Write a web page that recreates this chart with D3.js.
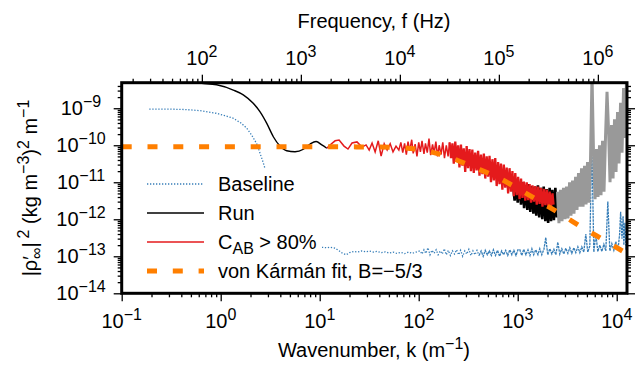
<!DOCTYPE html>
<html>
<head>
<meta charset="utf-8">
<script src="https://cdn.jsdelivr.net/npm/d3@7"></script>
<style>
  body { margin: 0; background: #fff; }
  svg { display: block; font-family: "Liberation Sans", Arial, Helvetica, sans-serif; }
</style>
</head>
<body>
<svg id="chart" width="642" height="371"></svg>
<script>
// ---- data ----
// frequency per unit wavenumber (top axis), Hz per m^-1
const freqPerK = 155;

// tick label exponents
const kTickExp = [-1, 0, 1, 2, 3, 4];
const fTickExp = [2, 3, 4, 5, 6];
const yTickExp = [-14, -13, -12, -11, -10, -9];

// Baseline (smooth low-k part, then noise floor)
const baseK = [0.19, 0.3, 0.45, 0.62, 0.91, 1.1, 1.33, 1.6, 1.83, 2.05, 2.31, 2.5, 2.67, 2.87, 3.1, 3.5,
  4, 5, 6.5, 8, 10, 10.8, 11.8, 12.8, 14, 15.5, 17, 18.5, 20, 22, 24, 26.5, 29, 32, 35, 38, 42, 46, 50, 55, 60, 66, 72, 79, 86, 94,
  103, 108, 113, 118, 124, 130, 136, 143, 150, 157, 165, 173, 181, 190, 199, 209, 219, 230, 241, 253, 265, 278, 292, 306, 321,
  337, 353, 370, 388, 407, 427, 448, 470, 493, 517, 542, 568, 596, 625, 656, 688, 721, 756, 793, 832, 872, 915, 960, 1007,
  1050, 1100, 1150, 1210, 1270, 1330, 1390, 1450, 1520, 1600, 1670, 1750, 1840, 1920, 2010, 2110, 2210, 2320, 2430, 2540,
  2660, 2790, 2920, 3060, 3210, 3360, 3520, 3690, 3860, 4050, 4240, 4440, 4650, 4870, 5100, 5350, 5600, 5870, 6150, 6440,
  6750, 7070, 7410, 7760, 8130, 8520, 8920, 9350, 9790, 10300, 10700, 10950, 11300, 11600, 11800, 12100, 12400, 12700];
const baseV = [9.5e-10, 9.5e-10, 9.2e-10, 8.6e-10, 7.3e-10, 6.3e-10, 5.4e-10, 4.0e-10, 2.9e-10, 1.9e-10, 1.1e-10, 6.0e-11, 3.6e-11, 1.9e-11, 6e-12, 1e-12,
  1.6e-13, 1.5e-13, 1.7e-13, 1.6e-13, 1.7e-13, 1.75e-13, 1.7e-13, 1.75e-13, 1.68e-13, 1.45e-13, 1.2e-13, 1.1e-13, 1.25e-13, 1.35e-13, 1.3e-13, 1.4e-13, 1.32e-13, 1.38e-13, 1.3e-13, 1.36e-13, 1.25e-13, 1.32e-13, 1.22e-13, 1.3e-13, 1.2e-13, 1.28e-13, 1.18e-13, 1.3e-13, 1.2e-13, 1.3e-13,
  1.4e-13, 1.15e-13, 1.5e-13, 1.2e-13, 1.7e-13, 1.1e-13, 1.45e-13, 1.2e-13, 1.5e-13, 1.1e-13, 1.4e-13, 1.15e-13, 1.6e-13, 1.1e-13, 1.45e-13, 1.05e-13, 1.4e-13, 1.15e-13, 1.5e-13, 1.1e-13, 1.45e-13, 1.0e-13, 1.4e-13, 1.15e-13, 1.55e-13,
  1.05e-13, 1.4e-13, 1.1e-13, 1.45e-13, 1.05e-13, 1.4e-13, 1.0e-13, 1.45e-13, 1.1e-13, 1.4e-13, 1.05e-13, 1.5e-13, 1.05e-13, 1.45e-13, 1.0e-13, 1.4e-13, 1.1e-13, 1.45e-13, 1.05e-13, 1.5e-13, 1.1e-13, 1.45e-13, 1.05e-13, 1.5e-13,
  1.5e-13, 1.05e-13, 1.55e-13, 1.1e-13, 1.5e-13, 1.05e-13, 1.6e-13, 1.1e-13, 1.5e-13, 1.1e-13, 1.6e-13, 1.1e-13, 1.55e-13, 3.2e-13, 1.1e-13, 1.6e-13, 1.15e-13, 1.55e-13, 1.1e-13, 2.4e-13,
  1.15e-13, 1.6e-13, 1.15e-13, 1.65e-13, 1.2e-13, 1.7e-13, 1.2e-13, 1.7e-13, 1.25e-13, 1.8e-13, 1.25e-13, 1.8e-13, 1.3e-13, 4.0e-13, 1.3e-13, 1.9e-13, 1.4e-10, 1.3e-13, 4.0e-13, 1.35e-13,
  2.0e-13, 1.35e-13, 2.1e-13, 1.4e-13, 3.0e-12, 1.4e-13, 2.2e-13, 1.45e-13, 2.5e-13, 1.5e-13, 4.0e-13, 1.6e-12, 3.0e-13, 1.2e-12, 2.0e-13, 8.0e-13, 1.5e-13, 4.0e-13];

// Run: smooth low-k part and the noisy part not covered by the coherent band
const runK = [0.12, 0.3, 0.5, 0.643, 0.911, 1.34, 1.69, 2.13, 2.49, 2.92, 3.4, 3.97, 4.64, 5.63, 6.84, 8.0, 9.2, 10.5, 11.8];
const runV = [5.3e-9, 5.2e-9, 5.0e-9, 4.7e-9, 4.3e-9, 3.1e-9, 2.3e-9, 1.36e-9, 8.1e-10, 3.9e-10, 1.7e-10, 9.5e-11, 7.1e-11, 6.7e-11, 7.8e-11, 1.08e-10, 1.26e-10, 1.02e-10, 8.3e-11];
const runNoiseK = [900, 930, 960, 1000, 1040, 1080, 1120, 1160, 1200, 1250, 1290, 1340, 1390, 1440, 1490, 1540, 1600, 1650, 1710, 1770, 1830, 1900, 1960, 2030, 2100, 2170, 2240, 2320, 2400, 2480, 2550];
const runNoiseV = [7.9e-12, 3.2e-12, 1.0e-11, 2.8e-12, 8.9e-12, 2.5e-12, 1.0e-11, 2.0e-12, 7.9e-12, 1.78e-12, 8.9e-12, 1.58e-12, 7.9e-12, 1.41e-12, 7.6e-12, 1.26e-12, 8.3e-12, 1.12e-12, 7.1e-12, 1.0e-12, 7.6e-12, 8.9e-13, 6.6e-12, 7.9e-13, 7.1e-12, 8.9e-13, 6.3e-12, 9.5e-13, 7.1e-12, 1.12e-12, 5.0e-12];

// Run above the cut-off (grey)
const greyK = [2520, 2610, 2700, 2800, 2900, 3000, 3110, 3220, 3340, 3450, 3580, 3700, 3840, 3970, 4110, 4260, 4410, 4570, 4730, 4900,
  5070, 5250, 5440, 5630, 5830, 6040, 6250, 6470, 6700, 6940, 7190, 7440, 7710, 7980, 8270, 8560, 8860, 9180, 9500, 9840,
  10190, 10550, 10930, 11320, 11720, 12130, 12560];
const greyV = [5.6e-12, 7.9e-13, 6.3e-12, 8.9e-13, 7.1e-12, 1.0e-12, 7.6e-12, 1.05e-12, 1.0e-11, 1.26e-12,
  1.12e-11, 1.41e-12, 1.41e-11, 1.78e-12, 1.78e-11, 2.2e-12, 2.4e-11, 2.2e-12, 2.8e-11, 2.5e-12,
  3.5e-11, 2.8e-12, 4.5e-11, 8e-9, 6.0e-11, 3.5e-12, 7.9e-11, 4.0e-12, 1.0e-10, 4.5e-12,
  1.32e-10, 5.6e-12, 1.78e-10, 2.8e-9, 2.5e-10, 1.0e-11, 3.5e-10, 1.26e-11, 5.0e-10, 1.9e-11,
  7.9e-10, 3.2e-11, 1.41e-9, 6.3e-11, 3.5e-9, 1.58e-10, 6.3e-9];

// C_AB > 80%
const cohK = [11.8, 12.7, 14.3, 15.7, 17.6, 19.3, 21.2, 23.8, 26.7, 29.4, 31.6, 33.8, 36.3, 39, 41.7, 44.8, 48, 51.5, 55, 59, 63,
  66, 69, 72, 75, 78, 81, 85, 88, 92, 96, 100, 104, 108, 113, 117, 122, 127, 132, 138, 143, 149, 155, 161, 168, 175, 182, 190, 198,
  205, 212, 219, 226, 234, 242, 250, 258, 267, 276, 285, 295, 305, 315, 326, 337, 348, 360, 372, 385, 398, 411, 425, 440, 455, 470,
  486, 502, 519, 537, 555, 574, 593, 613, 634, 655, 677, 700, 724, 748, 774, 800, 827, 855, 884, 914, 945, 977, 1010, 1044, 1080,
  1116, 1154, 1193, 1233, 1275, 1318, 1363, 1409, 1457, 1506, 1557, 1610, 1664, 1720, 1779, 1839, 1901, 1965, 2032, 2100, 2170, 2245, 2300];
const cohV = [8.3e-11, 1.02e-10, 1.32e-10, 1.38e-10, 9.5e-11, 7.9e-11, 1.15e-10, 1.23e-10, 8.9e-11, 1.02e-10, 7.4e-11, 1.15e-10, 6.6e-11, 1.32e-10, 5.1e-11, 1.1e-10, 7.4e-11, 1.1e-10, 6.6e-11, 9.5e-11, 7.4e-11,
  1.2e-10, 6.3e-11, 1.12e-10, 5.6e-11, 1.26e-10, 7.1e-11, 1.41e-10, 6.0e-11, 1.07e-10, 5.0e-11, 1.2e-10, 6.6e-11, 1.32e-10, 5.8e-11, 1.12e-10, 6.3e-11, 1.51e-10, 5.4e-11, 1.05e-10, 6.0e-11, 1.26e-10, 5.0e-11, 1.0e-10, 5.6e-11, 1.2e-10, 4.5e-11, 1.0e-10, 5.0e-11,
  1.2e-10, 4.5e-11, 1.12e-10, 3.2e-11, 1.26e-10, 3.8e-11, 1.0e-10, 2.5e-11, 1.05e-10, 2.8e-11, 8.3e-11, 1.9e-11, 9.5e-11, 2.4e-11, 7.9e-11, 2.0e-11, 7.6e-11, 1.78e-11, 6.3e-11, 2.1e-11, 7.1e-11, 1.51e-11, 5.6e-11, 1.66e-11, 6.0e-11, 1.26e-11,
  5.0e-11, 1.41e-11, 5.2e-11, 1.0e-11, 4.2e-11, 1.12e-11, 4.5e-11, 7.9e-12, 3.5e-11, 8.9e-12, 3.2e-11, 6.3e-12, 3.0e-11, 7.1e-12, 2.5e-11, 5.0e-12, 2.4e-11, 5.6e-12, 2.0e-11, 4.2e-12, 1.78e-11, 4.5e-12, 1.41e-11, 3.5e-12, 1.26e-11,
  3.8e-12, 1.05e-11, 3.2e-12, 1.0e-11, 3.3e-12, 8.9e-12, 2.8e-12, 8.3e-12, 3.0e-12, 7.9e-12, 2.5e-12, 7.6e-12, 2.6e-12, 7.1e-12, 2.2e-12, 6.6e-12, 2.4e-12, 6.3e-12, 2.1e-12, 5.6e-12, 2.2e-12, 5.0e-12, 2.5e-12];

// von Karman fit
const fitK = [0.1, 1, 10, 30, 60, 110, 197, 354, 612, 1060, 1680, 2800, 4600, 7900, 12700];
const fitV = [9.1e-11, 9.1e-11, 9.1e-11, 9.0e-11, 8.7e-11, 7.4e-11, 4.9e-11, 2.6e-11, 1.4e-11, 6.2e-12, 3.0e-12, 1.32e-12, 5.75e-13, 2.5e-13, 1.17e-13];

// ---- layout ----
const W = 642, H = 371;
const margin = { top: 82.7, right: 15, bottom: 77.7, left: 121.7 };
const kDomain = [0.1, 12700];
const yDomain = [1e-14, 4.9e-9];

const svg = d3.select('#chart');

const x = d3.scaleLog().domain(kDomain).range([margin.left, W - margin.right]);
const xf = d3.scaleLog().domain(kDomain.map(k => k * freqPerK)).range([margin.left, W - margin.right]);
const y = d3.scaleLog().domain(yDomain).range([H - margin.bottom, margin.top]);

svg.append('defs').append('clipPath').attr('id', 'plot-clip')
  .append('rect')
  .attr('x', margin.left).attr('y', margin.top)
  .attr('width', W - margin.left - margin.right)
  .attr('height', H - margin.top - margin.bottom);

// log ticks: majors at decades, minors at 2..9
function logTicks(domain) {
  const major = [], minor = [];
  for (let e = Math.floor(Math.log10(domain[0])); e <= Math.ceil(Math.log10(domain[1])); e++) {
    for (let m = 1; m < 10; m++) {
      const v = m * Math.pow(10, e);
      if (v < domain[0] * 0.999 || v > domain[1] * 1.001) continue;
      (m === 1 ? major : minor).push(v);
    }
  }
  return { major, minor };
}

function drawAxis(axisFn, scale, transform, domain) {
  const t = logTicks(domain);
  [[t.minor, 4], [t.major, 8]].forEach(([vals, size]) => {
    const g = svg.append('g').attr('transform', transform)
      .call(axisFn(scale).tickValues(vals).tickSize(size).tickFormat(''));
    g.select('.domain').remove();
    g.selectAll('line').attr('stroke', '#000').attr('stroke-width', 1.3);
  });
}

drawAxis(d3.axisBottom, x, `translate(0,${H - margin.bottom})`, kDomain);
drawAxis(d3.axisTop, xf, `translate(0,${margin.top})`, xf.domain());
drawAxis(d3.axisLeft, y, `translate(${margin.left},0)`, yDomain);
drawAxis(d3.axisRight, y, `translate(${W - margin.right},0)`, yDomain);

// "10^n" labels
function powLabel(sel, e) {
  sel.append('tspan').text('10');
  sel.append('tspan').attr('dy', -8).attr('font-size', 16)
    .text(e < 0 ? '\u2212' + Math.abs(e) : String(e));
}

const labels = svg.append('g').attr('font-size', 20).attr('fill', '#000');

kTickExp.forEach(e => {
  labels.append('text').attr('x', x(Math.pow(10, e))).attr('y', 328)
    .attr('text-anchor', 'middle').call(powLabel, e);
});
fTickExp.forEach(e => {
  labels.append('text').attr('x', xf(Math.pow(10, e))).attr('y', 65)
    .attr('text-anchor', 'middle').call(powLabel, e);
});
yTickExp.forEach(e => {
  labels.append('text').attr('x', 81).attr('y', y(Math.pow(10, e)) + 7)
    .attr('text-anchor', 'middle').call(powLabel, e);
});

// axis titles
const xTitle = labels.append('text').attr('x', 374).attr('y', 357).attr('text-anchor', 'middle');
xTitle.append('tspan').text('Wavenumber, k (m');
xTitle.append('tspan').attr('dy', -8).attr('font-size', 16).text('\u22121');
xTitle.append('tspan').attr('dy', 8).text(')');

labels.append('text').attr('x', 374).attr('y', 28).attr('text-anchor', 'middle')
  .text('Frequency, f (Hz)');

const yTitle = labels.append('text')
  .attr('transform', `translate(37,${(margin.top + H - margin.bottom) / 2}) rotate(-90)`)
  .attr('text-anchor', 'middle');
yTitle.append('tspan').text('|\u03C1\u2032');
yTitle.append('tspan').attr('dy', 5).attr('dx', -3).attr('font-size', 16).text('\u221E');
yTitle.append('tspan').attr('dy', -5).text('|');
yTitle.append('tspan').attr('dy', -8).attr('dx', 4).attr('font-size', 16).text('2');
yTitle.append('tspan').attr('dy', 8).text(' (kg m');
yTitle.append('tspan').attr('dy', -8).attr('font-size', 16).text('\u22123');
yTitle.append('tspan').attr('dy', 8).text(')');
yTitle.append('tspan').attr('dy', -8).attr('font-size', 16).text('2');
yTitle.append('tspan').attr('dy', 8).text(' m');
yTitle.append('tspan').attr('dy', -8).attr('font-size', 16).text('\u22121');

// ---- series ----
const plot = svg.append('g').attr('clip-path', 'url(#plot-clip)');
const line = d3.line().x(d => x(d[0])).y(d => y(d[1]));
const smooth = d3.line().x(d => x(d[0])).y(d => y(d[1])).curve(d3.curveMonotoneX);

// baseline: sparse points read as dots, dense high-k part merges into a band
const basePts = d3.zip(baseK, baseV);
plot.append('path').datum(basePts.filter(d => d[0] <= 407))
  .attr('d', line).attr('fill', 'none')
  .attr('stroke', '#377eb8').attr('stroke-width', 1.3).attr('stroke-dasharray', '1.3,1.7');
plot.append('path').datum(basePts.filter(d => d[0] >= 407))
  .attr('d', line).attr('fill', 'none')
  .attr('stroke', '#377eb8').attr('stroke-width', 1.3).attr('stroke-dasharray', '2.5,0.8');

plot.append('path').datum(d3.zip(runK, runV))
  .attr('d', smooth).attr('fill', 'none')
  .attr('stroke', '#000').attr('stroke-width', 1.4);

plot.append('path').datum(d3.zip(runNoiseK, runNoiseV))
  .attr('d', line).attr('fill', 'none')
  .attr('stroke', '#000').attr('stroke-width', 2.6);

plot.append('path').datum(d3.zip(greyK, greyV))
  .attr('d', line).attr('fill', 'none')
  .attr('stroke', '#999999').attr('stroke-width', 3)
  .attr('stroke-linejoin', 'bevel');

// coherent band: thin where sparse, heavier where the samples pack together
const cohPts = d3.zip(cohK, cohV);
plot.append('path').datum(cohPts.filter(d => d[0] <= 205))
  .attr('d', line).attr('fill', 'none')
  .attr('stroke', '#e41a1c').attr('stroke-width', 1.5);
plot.append('path').datum(cohPts.filter(d => d[0] >= 205))
  .attr('d', line).attr('fill', 'none')
  .attr('stroke', '#e41a1c').attr('stroke-width', 2.3).attr('stroke-linejoin', 'bevel');

plot.append('path').datum(d3.zip(fitK, fitV))
  .attr('d', smooth).attr('fill', 'none')
  .attr('stroke', '#ff7f00').attr('stroke-width', 5).attr('stroke-dasharray', '10,15.8');

// ---- legend (opaque key box) ----
const legend = svg.append('g');
legend.append('rect').attr('x', 133).attr('y', 169).attr('width', 189).attr('height', 119).attr('fill', '#fff');

const legendY = [184, 213, 242, 271];
const legendStyles = [
  { stroke: '#377eb8', width: 1.3, dash: '1.3,1.7' },
  { stroke: '#000', width: 1.4, dash: null },
  { stroke: '#e41a1c', width: 1.4, dash: null },
  { stroke: '#ff7f00', width: 5, dash: '10,15.8' }
];
legendStyles.forEach((s, i) => {
  legend.append('line')
    .attr('x1', 147).attr('x2', 204).attr('y1', legendY[i]).attr('y2', legendY[i])
    .attr('stroke', s.stroke).attr('stroke-width', s.width)
    .attr('stroke-dasharray', s.dash);
});

const lt = legend.append('g').attr('font-size', 20).attr('fill', '#000');
lt.append('text').attr('x', 218).attr('y', legendY[0] + 7).text('Baseline');
lt.append('text').attr('x', 218).attr('y', legendY[1] + 7).text('Run');
const cab = lt.append('text').attr('x', 218).attr('y', legendY[2] + 7);
cab.append('tspan').text('C');
cab.append('tspan').attr('dy', 5).attr('font-size', 16).text('AB');
cab.append('tspan').attr('dy', -5).text(' > 80%');
lt.append('text').attr('x', 218).attr('y', legendY[3] + 7).text('von K\u00e1rm\u00e1n fit, B=\u22125/3');

// frame
svg.append('rect')
  .attr('x', margin.left).attr('y', margin.top)
  .attr('width', W - margin.left - margin.right)
  .attr('height', H - margin.top - margin.bottom)
  .attr('fill', 'none').attr('stroke', '#000').attr('stroke-width', 3);
</script>
</body>
</html>
